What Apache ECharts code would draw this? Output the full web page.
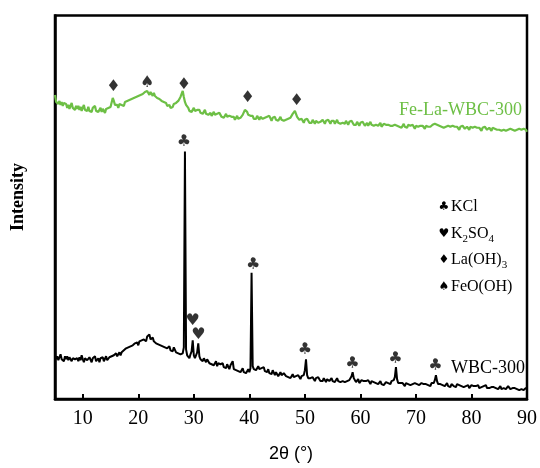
<!DOCTYPE html>
<html>
<head>
<meta charset="utf-8">
<script src="https://cdn.jsdelivr.net/npm/echarts@6/dist/echarts.min.js"></script>
<style>
  html, body { margin: 0; padding: 0; background: #fff; }
  #chart { width: 540px; height: 468px; }
</style>
</head>
<body>
<div id="chart"></div>
<script>
// XRD patterns, 2θ from 5° to 90° in 0.2° steps (arbitrary intensity units)
const twoThetaStart = 5;
const twoThetaStep = 0.2;

const wbc300 = [
  44,40,43,39,42,45,40,41,38,43,
  40,43,39,42,44,38,41,43,40,42,
  41,38,42,39,44,40,37,41,43,39,
  38,42,40,37,41,39,43,38,40,41,
  37,41,39,42,38,40,43,39,41,42,
  40,43,41,44,42,46,43,45,47,44,
  47,45,49,48,51,49,52,50,53,51,
  54,52,56,55,57,54,58,56,59,57,
  60,62,58,63,61,65,60,59,62,58,
  59,56,58,55,57,54,56,53,55,52,
  53,51,50,53,49,51,48,52,50,47,
  49,46,48,45,47,46,52,249,50,44,
  43,41,45,48,59,44,41,43,47,56,
  43,40,42,38,41,39,37,40,38,36,
  38,35,37,34,36,38,33,36,34,35,
  33,36,32,34,31,35,33,30,34,32,
  38,30,32,29,31,28,30,27,29,31,
  27,29,26,28,30,27,31,127,33,30,
  32,29,31,33,30,28,31,29,32,28,
  29,27,30,26,28,25,29,27,24,27,
  26,23,25,27,24,22,26,24,23,25,
  22,24,21,23,25,22,20,23,21,24,
  22,20,23,21,24,29,40,24,21,19,
  21,19,22,20,18,21,19,22,20,18,
  20,18,21,19,17,20,22,18,19,21,
  18,20,17,19,21,18,20,17,19,18,
  20,17,19,18,20,19,21,23,27,21,
  19,17,18,20,16,18,19,17,18,16,
  18,16,19,17,15,18,16,17,19,16,
  17,15,16,18,15,17,14,16,17,15,
  16,17,15,18,16,19,22,32,20,16,
  15,16,14,16,15,13,16,14,15,16,
  14,16,15,13,16,14,15,17,14,15,
  16,14,15,13,15,16,14,15,13,16,
  15,16,19,24,18,15,14,15,13,14,
  15,13,14,16,13,14,12,15,14,13,
  14,12,15,13,14,12,13,15,12,14,
  13,12,14,11,13,14,12,13,11,13,
  12,14,11,13,12,11,13,12,14,11,
  12,11,13,12,10,12,13,11,12,10,
  11,13,10,12,11,12,10,11,13,11,
  10,12,11,9,11,12,10,11,9,11,
  10,11,9,10,11,10
];

const feLaWbc300 = [
  306,299,301,297,300,296,299,295,298,296,
  297,293,296,292,295,298,293,294,291,295,
  292,295,291,294,290,293,296,291,293,290,
  294,290,292,289,293,291,295,290,292,289,
  290,293,289,292,290,288,292,290,293,291,
  294,296,303,300,296,294,296,293,297,295,
  296,298,295,299,297,300,298,301,299,302,
  300,303,301,304,302,305,303,306,304,307,
  306,309,307,310,308,306,309,307,305,308,
  305,307,303,305,302,304,300,302,299,301,
  298,295,293,296,293,295,294,297,295,298,
  297,300,302,304,307,310,304,299,296,294,
  293,290,292,289,291,293,290,288,291,289,
  291,288,290,287,289,291,287,289,286,288,
  288,285,287,289,286,284,287,285,288,286,
  284,286,283,285,287,284,282,285,283,284,
  282,284,281,283,285,282,280,283,284,286,
  288,291,292,289,286,284,285,283,285,282,
  284,282,285,283,281,284,286,282,284,283,
  281,284,282,285,283,280,283,282,284,281,
  283,280,282,284,281,283,280,282,281,283,
  282,284,283,285,287,288,290,288,284,282,
  281,279,282,280,278,281,279,282,280,278,
  280,278,281,279,277,280,282,278,280,279,
  278,281,279,277,280,278,281,279,277,280,
  278,280,277,279,281,278,280,277,279,278,
  279,277,280,278,276,279,277,280,278,276,
  278,276,279,277,275,278,276,279,277,275,
  276,278,275,277,279,276,278,275,277,276,
  277,275,276,278,274,276,277,275,276,274,
  276,274,275,277,275,273,276,274,275,277,
  274,276,273,275,277,274,275,273,276,274,
  275,273,276,274,272,275,276,274,273,275,
  273,275,274,272,275,273,274,276,274,275,
  276,278,277,279,276,277,275,276,274,275,
  273,275,274,272,275,273,274,272,275,273,
  274,272,274,273,271,274,272,275,273,272,
  272,274,273,271,274,272,273,271,274,272,
  273,271,273,272,270,273,271,274,272,271,
  271,273,272,270,273,271,272,274,271,272,
  271,273,270,272,271,273,270,272,271,270,
  272,270,271,273,270,272,271,269,272,270,
  271,270,272,270,271,269
];

const xTickValues = [10, 20, 30, 40, 50, 60, 70, 80, 90];

// Phase markers placed above the identified reflections: [2θ, height, glyph]
const peakMarkers = [
  [15.5, 314, '♦'], [21.6, 318, '♠'], [28.2, 316, '♦'], [39.7, 303, '♦'], [48.5, 300, '♦'],
  [28.2, 259, '♣'], [40.7, 135, '♣'], [29.8, 79, '♥'], [30.85, 65, '♥'],
  [50.0, 49, '♣'], [58.55, 35, '♣'], [66.3, 40, '♣'], [73.5, 33, '♣']
];

const phaseGlyphs = ['♣', '♥', '♦', '♠'];
const phaseNames = ['KCl', 'K{s|2}SO{s|4}', 'La(OH){s|3}', 'FeO(OH)'];

const sampleNames = ['WBC-300', 'Fe-La-WBC-300'];
const greenColor = '#6dbf45';

function toPairs(values) {
  return values.map((v, i) => [+(twoThetaStart + i * twoThetaStep).toFixed(1), v]);
}

const serif = 'Liberation Serif, Times New Roman, serif';
const glyphFont = 'DejaVu Sans';

const legendGraphics = [];
phaseGlyphs.forEach((g, i) => {
  const cy = 207 + i * 26.5;
  legendGraphics.push({
    type: 'text', x: 444, y: cy,
    style: { text: g, font: '12px "' + glyphFont + '"', fill: '#000', align: 'center', verticalAlign: 'middle' }
  });
  legendGraphics.push({
    type: 'text', x: 451, y: cy,
    style: {
      text: phaseNames[i],
      fill: '#000',
      fontFamily: serif, fontSize: 16,
      verticalAlign: 'middle',
      rich: {
        s: { fontFamily: serif, fontSize: 11, verticalAlign: 'bottom', lineHeight: 22 }
      },
      lineHeight: 22
    }
  });
});

const chart = echarts.init(document.getElementById('chart'), null, { renderer: 'canvas' });

chart.setOption({
  animation: false,
  backgroundColor: '#fff',
  grid: {
    left: 55, right: 12.5, top: 15.5, bottom: 66.5,
    show: true, borderColor: '#000', borderWidth: 2.5, backgroundColor: 'transparent'
  },
  xAxis: {
    type: 'value', min: 5, max: 90,
    name: '2θ (°)', nameLocation: 'middle', nameGap: 46,
    nameTextStyle: { fontFamily: 'Liberation Sans', fontSize: 18, color: '#000' },
    axisLine: { show: true, lineStyle: { color: '#000', width: 2.5 } },
    axisTick: { show: true, inside: true, length: 5, lineStyle: { color: '#000', width: 2 }, customValues: xTickValues },
    axisLabel: { show: true, margin: 10, fontFamily: serif, fontSize: 20, color: '#000', customValues: xTickValues },
    splitLine: { show: false }
  },
  yAxis: {
    type: 'value', min: 0, max: 386,
    axisLine: { show: true, lineStyle: { color: '#000', width: 2.5 } },
    axisTick: { show: false },
    axisLabel: { show: false },
    splitLine: { show: false }
  },
  series: [
    {
      name: sampleNames[0], type: 'line', data: toPairs(wbc300),
      showSymbol: false, symbol: 'none', lineStyle: { color: '#000', width: 2 }, z: 3
    },
    {
      name: sampleNames[1], type: 'line', data: toPairs(feLaWbc300),
      showSymbol: false, symbol: 'none', lineStyle: { color: greenColor, width: 2.2 }, z: 2
    },
    {
      type: 'scatter', data: peakMarkers, symbol: 'circle', symbolSize: 2,
      itemStyle: { color: 'rgba(0,0,0,0)' },
      label: {
        show: true, position: 'inside',
        formatter: p => p.value[2],
        fontFamily: glyphFont, fontSize: 16, color: '#000'
      },
      emphasis: { disabled: true },
      z: 5
    }
  ],
  graphic: [
    {
      type: 'text', x: 18, y: 197, rotation: Math.PI / 2,
      style: { text: 'Intensity', font: 'bold 18px ' + serif, fill: '#000', align: 'center', verticalAlign: 'middle' }
    },
    {
      type: 'text', x: 522, y: 110,
      style: { text: sampleNames[1], fontFamily: serif, fontSize: 18, fill: greenColor, align: 'right', verticalAlign: 'middle' }
    },
    {
      type: 'text', x: 525, y: 368,
      style: { text: sampleNames[0], fontFamily: serif, fontSize: 18, fill: '#000', align: 'right', verticalAlign: 'middle' }
    }
  ].concat(legendGraphics)
});
</script>
</body>
</html>
